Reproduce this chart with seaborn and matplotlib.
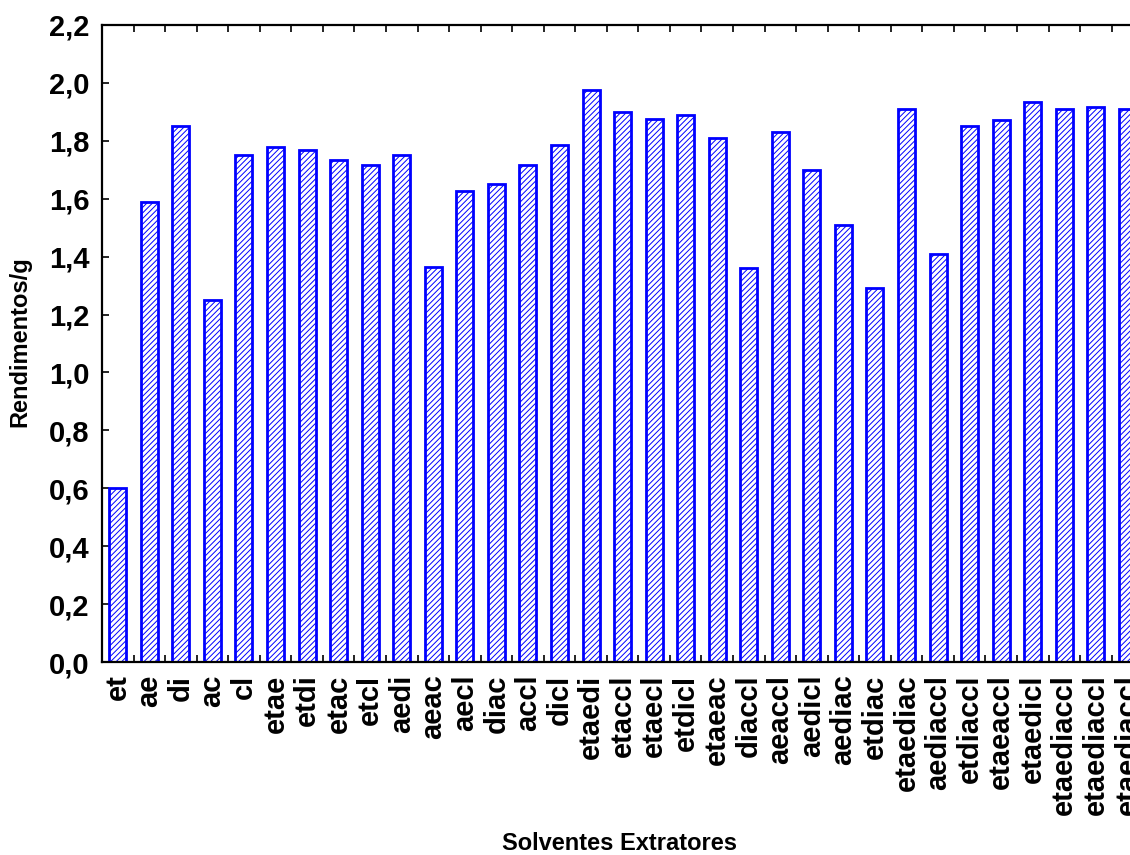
import matplotlib
matplotlib.use("Agg")
import matplotlib.pyplot as plt
import matplotlib.ticker as mticker
import seaborn as sns
import pandas as pd

# Solvent combinations (x categories) and yields
solventes = [
    "et", "ae", "di", "ac", "cl", "etae", "etdi", "etac", "etcl", "aedi",
    "aeac", "aecl", "diac", "accl", "dicl", "etaedi", "etaccl", "etaecl",
    "etdicl", "etaeac", "diaccl", "aeaccl", "aedicl", "aediac", "etdiac",
    "etaediac", "aediaccl", "etdiaccl", "etaeaccl", "etaedicl",
    "etaediaccl", "etaediaccl", "etaediaccl",
]
rendimentos = [
    0.60, 1.59, 1.85, 1.25, 1.75, 1.78, 1.77, 1.735, 1.715, 1.75,
    1.365, 1.625, 1.65, 1.715, 1.785, 1.975, 1.90, 1.875,
    1.89, 1.81, 1.36, 1.83, 1.70, 1.51, 1.29,
    1.91, 1.41, 1.85, 1.872, 1.934,
    1.91, 1.917, 1.91,
]
y_ticks = [0.0, 0.2, 0.4, 0.6, 0.8, 1.0, 1.2, 1.4, 1.6, 1.8, 2.0, 2.2]

sns.set_theme(style="ticks")
plt.rcParams["font.family"] = ["Liberation Sans", "DejaVu Sans"]
plt.rcParams["hatch.linewidth"] = 0.7
plt.rcParams["text.color"] = "black"
plt.rcParams["axes.labelcolor"] = "black"
plt.rcParams["xtick.color"] = "black"
plt.rcParams["ytick.color"] = "black"

df = pd.DataFrame({"pos": range(len(solventes)), "valor": rendimentos})

fig = plt.figure(figsize=(11.3, 8.55), dpi=100)
n = len(solventes)
ax_w = n * 31.55
# the plot area runs past the right edge, as in the original
ax = fig.add_axes([102 / 1130, 193 / 855, ax_w / 1130, 637 / 855])

sns.barplot(data=df, x="pos", y="valor", width=0.54, ax=ax)
for bar in ax.patches:
    bar.set_facecolor("white")
    bar.set_edgecolor("#0000ff")
    bar.set_hatch("//////")
    bar.set_linewidth(2.0)

ax.set_xlim(-0.5, n - 0.5)
ax.set_ylim(0, 2.2)
ax.set_yticks(y_ticks)
ax.yaxis.set_major_formatter(
    mticker.FuncFormatter(lambda v, p: f"{v:.1f}".replace(".", ","))
)
ax.set_xticks(range(n))
ax.set_xticklabels(solventes, rotation=90, fontsize=21, fontweight="bold")
ax.set_xticks([i + 0.5 for i in range(-1, n)], minor=True)
ax.tick_params(axis="x", which="major", length=0, pad=9)
ax.tick_params(axis="x", which="minor", direction="in", length=5, width=1.2,
               top=True, bottom=True)
ax.tick_params(axis="y", direction="in", length=5, width=1.2, pad=9,
               labelsize=21)
for lab in ax.get_yticklabels():
    lab.set_fontweight("bold")

for side in ["left", "top", "bottom"]:
    ax.spines[side].set_linewidth(1.6)
    ax.spines[side].set_color("black")
ax.spines["right"].set_visible(False)

ax.set_xlabel("Solventes Extratores", fontsize=17, fontweight="bold")
ax.set_ylabel("Rendimentos/g", fontsize=17, fontweight="bold")
ax.xaxis.set_label_coords((620 - 102) / ax_w, -(832 - 662) / 637)
ax.yaxis.set_label_coords(-(102 - 31) / ax_w, (662 - 342) / 637)

fig.savefig("out.png", dpi=100)
